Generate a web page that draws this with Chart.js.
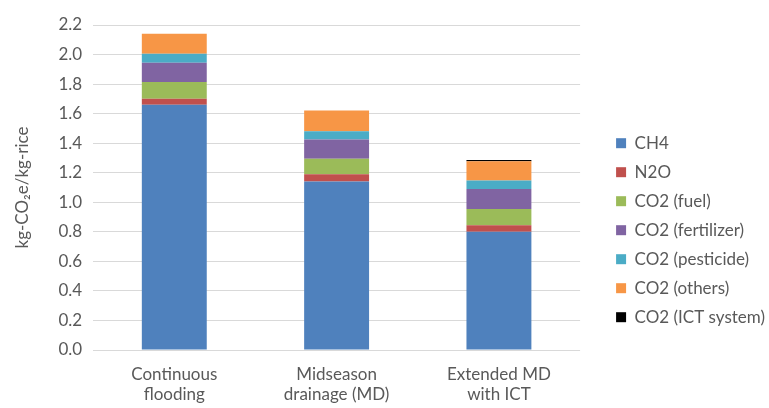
<!DOCTYPE html>
<html>
<head>
<meta charset="utf-8">
<script src="https://cdn.jsdelivr.net/npm/chart.js@4"></script>
<style>
  html, body { margin: 0; padding: 0; background: #fff; }
  #wrap { width: 769px; height: 408px; }
</style>
</head>
<body>
<div id="wrap"><canvas id="chart"></canvas></div>
<script>
const categories = [['Continuous', 'flooding'], ['Midseason', 'drainage (MD)'], ['Extended MD', 'with ICT']];
const ch4 = [1.66, 1.14, 0.80];
const n2o = [0.04, 0.05, 0.045];
const co2Fuel = [0.115, 0.105, 0.11];
const co2Fertilizer = [0.13, 0.13, 0.135];
const co2Pesticide = [0.06, 0.056, 0.057];
const co2Others = [0.135, 0.14, 0.13];
const co2Ict = [0, 0, 0.01];
const yTicks = [0, 0.2, 0.4, 0.6, 0.8, 1.0, 1.2, 1.4, 1.6, 1.8, 2.0, 2.2];

const textColor = '#595959';
const fontFamily = 'Lato, "Open Sans", sans-serif';

const chart = new Chart(document.getElementById('chart'), {
    type: 'bar',
    data: {
        labels: categories,
        datasets: [
            { label: 'CH4', data: ch4, backgroundColor: '#4F81BD' },
            { label: 'N2O', data: n2o, backgroundColor: '#C0504D' },
            { label: 'CO2 (fuel)', data: co2Fuel, backgroundColor: '#9BBB59' },
            { label: 'CO2 (fertilizer)', data: co2Fertilizer, backgroundColor: '#8064A2' },
            { label: 'CO2 (pesticide)', data: co2Pesticide, backgroundColor: '#4BACC6' },
            { label: 'CO2 (others)', data: co2Others, backgroundColor: '#F79646' },
            { label: 'CO2 (ICT system)', data: co2Ict, backgroundColor: '#000000' }
        ]
    },
    options: {
        responsive: true,
        maintainAspectRatio: false,
        animation: false,
        datasets: {
            bar: { categoryPercentage: 1.0, barPercentage: 0.4 }
        },
        layout: { padding: { left: 8, right: -6, top: 25, bottom: 0 } },
        plugins: {
            tooltip: { enabled: false },
            legend: {
                position: 'right',
                maxWidth: 220,
                title: { display: true, text: ' ', padding: { top: 13, bottom: 0 } },
                labels: {
                    boxWidth: 10,
                    boxHeight: 10,
                    padding: 12,
                    color: textColor,
                    font: { family: fontFamily, size: 17 }
                }
            }
        },
        scales: {
            x: {
                stacked: true,
                grid: { display: false, drawTicks: false },
                border: { display: false },
                afterFit: (scale) => { scale.height = 58; },
                ticks: {
                    color: textColor,
                    padding: 14,
                    maxRotation: 0,
                    font: { family: fontFamily, size: 17 }
                }
            },
            y: {
                stacked: true,
                min: 0,
                max: 2.2,
                afterBuildTicks: (axis) => { axis.ticks = yTicks.map(v => ({ value: v })); },
                grid: { color: '#d9d9d9', drawTicks: false, lineWidth: 1 },
                border: { display: false },
                ticks: {
                    color: textColor,
                    padding: 11,
                    font: { family: fontFamily, size: 17 },
                    callback: (v) => Number(v).toFixed(1)
                },
                title: {
                    display: true,
                    text: 'kg-CO\u2082e/kg-rice',
                    color: textColor,
                    padding: { top: 4, bottom: 15 },
                    font: { family: fontFamily, size: 17 }
                }
            },
            gap: {
                position: 'right',
                display: true,
                grid: { display: false },
                border: { display: false },
                ticks: { display: false },
                afterFit: (scale) => { scale.width = 24; }
            }
        }
    }
});
</script>
</body>
</html>
